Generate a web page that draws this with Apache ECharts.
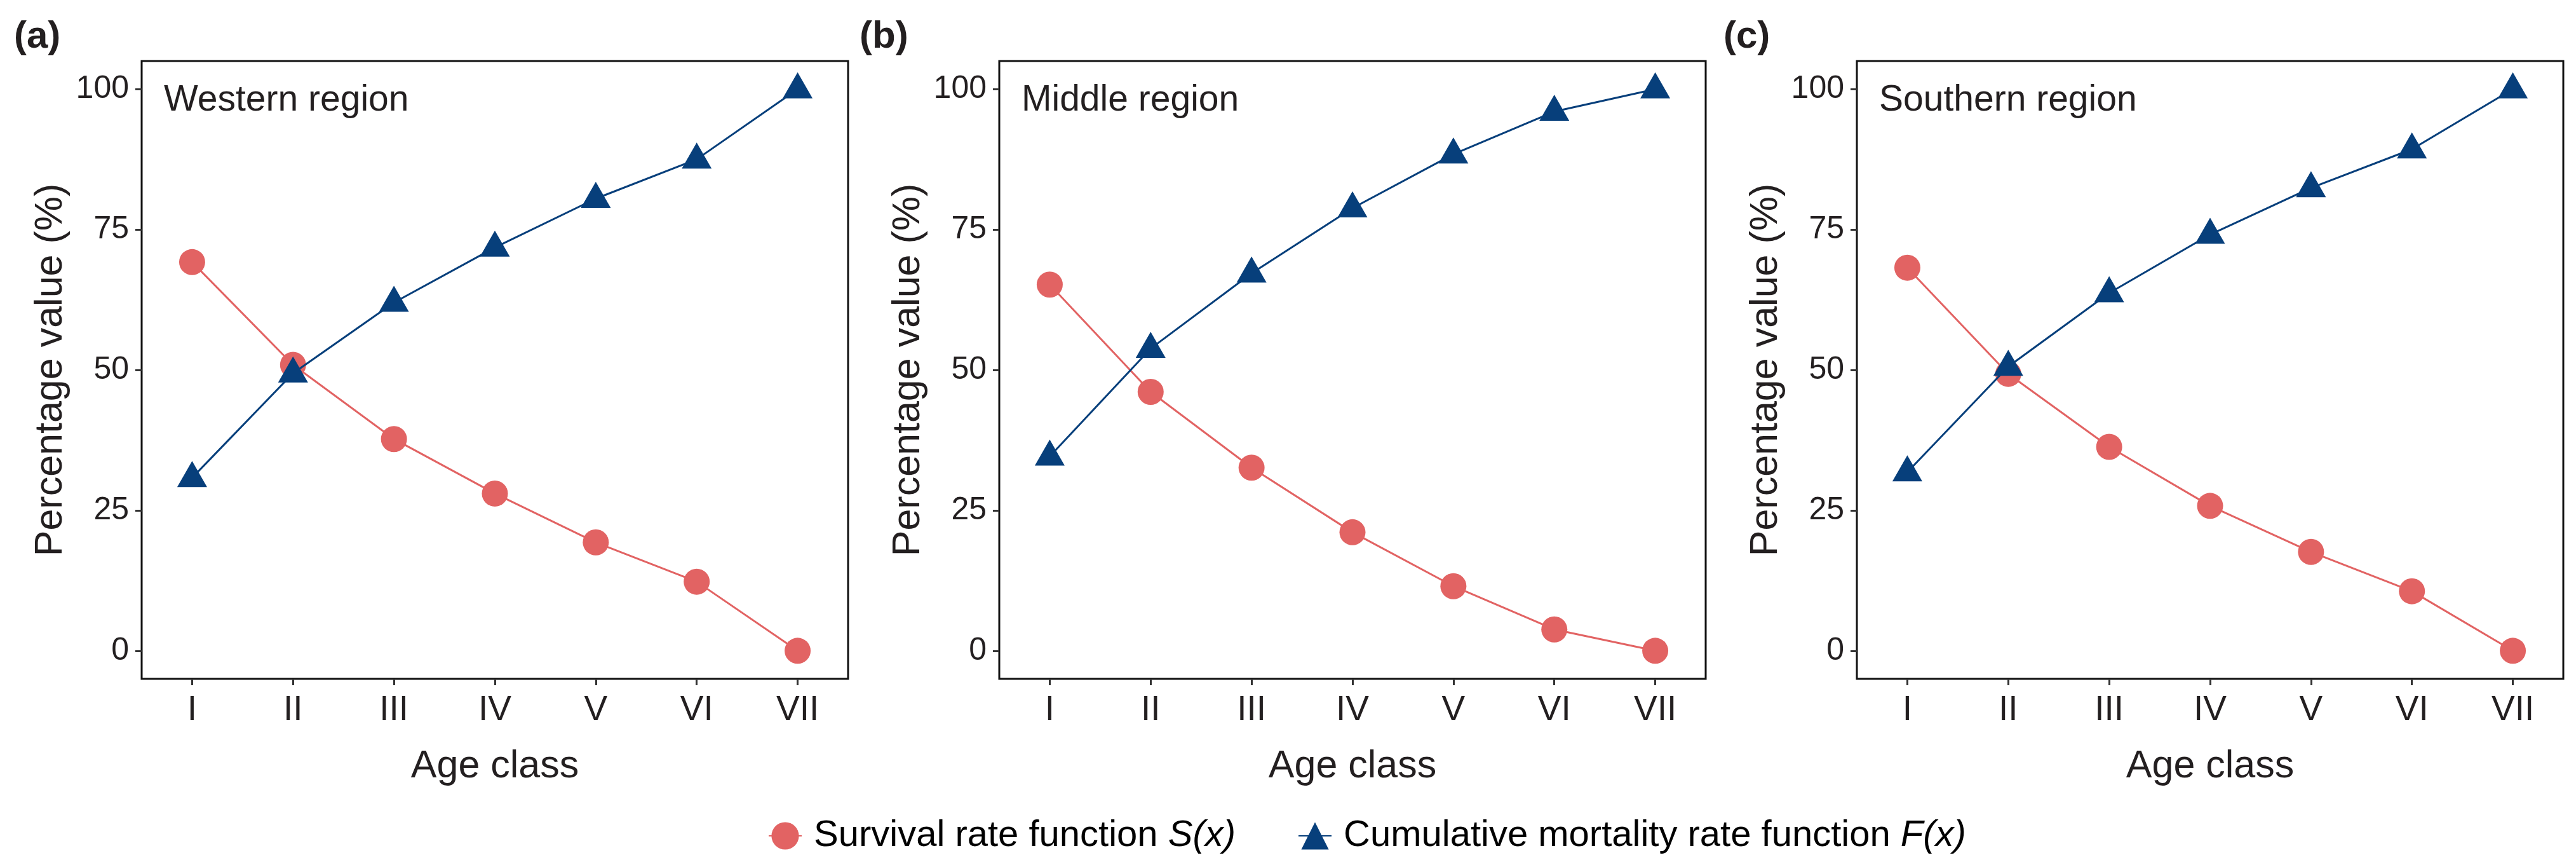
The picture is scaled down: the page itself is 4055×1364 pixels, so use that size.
<!DOCTYPE html>
<html>
<head>
<meta charset="utf-8">
<script src="https://cdn.jsdelivr.net/npm/echarts@6/dist/echarts.min.js"></script>
<style>
html,body{margin:0;padding:0;background:#fff;}
#chart{width:4055px;height:1364px;}
</style>
</head>
<body>
<div id="chart"></div>
<script>
// ---- data ----
const categories = ['I', 'II', 'III', 'IV', 'V', 'VI', 'VII'];
const yTicks = [0, 25, 50, 75, 100];
const regionNames = ['Western region', 'Middle region', 'Southern region'];
const panelTags = ['(a)', '(b)', '(c)'];
const survivalWestern  = [69.2, 50.9, 37.7, 28.0, 19.3, 12.3, 0];
const mortalityWestern = [30.8, 49.4, 62.0, 71.8, 80.5, 87.5, 100];
const survivalMiddle   = [65.2, 46.1, 32.6, 21.1, 11.5, 3.8, 0];
const mortalityMiddle  = [34.6, 53.8, 67.2, 78.8, 88.4, 96.0, 100];
const survivalSouthern  = [68.2, 49.3, 36.3, 25.8, 17.6, 10.6, 0];
const mortalitySouthern = [31.8, 50.6, 63.7, 74.1, 82.4, 89.3, 100];
const survivalName = 'Survival rate function S(x)';
const mortalityName = 'Cumulative mortality rate function F(x)';

const survivalSets = [survivalWestern, survivalMiddle, survivalSouthern];
const mortalitySets = [mortalityWestern, mortalityMiddle, mortalitySouthern];

// ---- layout / style ----
const FONT = '"Liberation Sans", Arial, Helvetica, sans-serif';
const TXT = '#231F20';
const RED = '#E26363';
const BLUE = '#073F7B';
const gridLefts = [223, 1573, 2923];
const tagLefts = [22, 1353, 2713];
const GRID_W = 1112, GRID_TOP = 96, GRID_H = 972;

const chart = echarts.init(document.getElementById('chart'), null, {renderer: 'canvas'});

const grids = [], xAxes = [], yAxes = [], series = [], graphics = [];
for (let i = 0; i < 3; i++) {
  grids.push({
    left: gridLefts[i], top: GRID_TOP, width: GRID_W, height: GRID_H,
    show: true, borderColor: '#111', borderWidth: 3, backgroundColor: 'transparent',
    containLabel: false
  });
  xAxes.push({
    type: 'category', gridIndex: i, data: categories, boundaryGap: true,
    name: 'Age class', nameLocation: 'middle', nameGap: 108,
    nameTextStyle: {fontSize: 61, color: TXT, fontFamily: FONT},
    axisLine: {show: false, onZero: false},
    axisTick: {show: true, alignWithLabel: true, length: 10, lineStyle: {color: '#333', width: 3}},
    axisLabel: {fontSize: 55, color: TXT, fontFamily: FONT, margin: 22},
    splitLine: {show: false}
  });
  yAxes.push({
    type: 'value', gridIndex: i, min: -5, max: 105,
    name: 'Percentage value (%)', nameLocation: 'middle', nameRotate: 90, nameGap: 112,
    nameTextStyle: {fontSize: 61, color: TXT, fontFamily: FONT},
    axisLine: {show: false, onZero: false},
    axisTick: {show: true, length: 10, customValues: yTicks, lineStyle: {color: '#333', width: 3}},
    axisLabel: {fontSize: 50, color: TXT, fontFamily: FONT, margin: 20, customValues: yTicks},
    splitLine: {show: false}
  });
  series.push({
    type: 'line', name: survivalName, xAxisIndex: i, yAxisIndex: i,
    data: survivalSets[i], symbol: 'circle', symbolSize: 41,
    lineStyle: {color: RED, width: 3}, itemStyle: {color: RED},
    z: 2, animation: false
  });
  series.push({
    type: 'line', name: mortalityName, xAxisIndex: i, yAxisIndex: i,
    data: mortalitySets[i], symbol: 'triangle', symbolSize: [47, 41], symbolOffset: [0, -6],
    lineStyle: {color: BLUE, width: 3}, itemStyle: {color: BLUE},
    z: 3, animation: false
  });
  graphics.push({
    type: 'text', left: gridLefts[i] + 35, top: 130,
    style: {text: regionNames[i], font: '57px ' + FONT, fill: TXT}
  });
  graphics.push({
    type: 'text', left: tagLefts[i], top: 28,
    style: {text: panelTags[i], font: 'bold 60px ' + FONT, fill: TXT}
  });
}

const option = {
  backgroundColor: '#fff',
  animation: false,
  grid: grids,
  xAxis: xAxes,
  yAxis: yAxes,
  series: series,
  graphic: graphics,
  legend: {
    data: [survivalName, mortalityName],
    left: 1204, top: 1281,
    itemWidth: 52, itemHeight: 54, itemGap: 98,
    selectedMode: false,
    formatter: function (name) {
      return name.replace(/(\S+\(x\))$/, '{i|$1}');
    },
    textStyle: {
      fontSize: 58, color: '#000', fontFamily: FONT, padding: [0, 0, 0, 14],
      rich: {i: {fontSize: 58, color: '#000', fontFamily: FONT, fontStyle: 'italic'}}
    }
  }
};
chart.setOption(option);
</script>
</body>
</html>
